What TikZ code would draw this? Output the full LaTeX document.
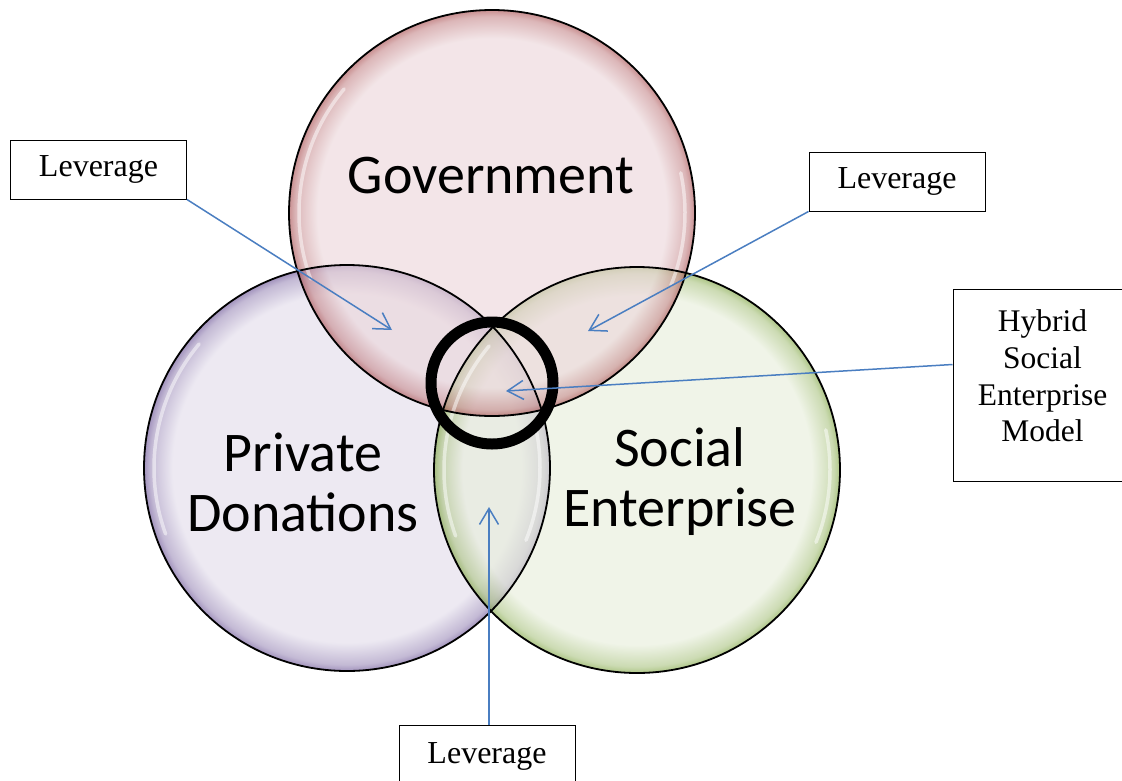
\documentclass[tikz,border=0pt]{standalone}
\usepackage{fontspec}
\setmainfont{Liberation Serif}
\newfontfamily\calib{Carlito}
\usetikzlibrary{arrows.meta,calc}

\definecolor{govL}{RGB}{235,213,217}
\definecolor{govD}{RGB}{165,70,72}
\colorlet{govM}{govD!55!govL}
\definecolor{priL}{RGB}{225,219,234}
\definecolor{priD}{RGB}{100,75,145}
\colorlet{priM}{priD!55!priL}
\definecolor{socL}{RGB}{231,238,218}
\definecolor{socD}{RGB}{120,160,55}
\colorlet{socM}{socD!55!socL}
\definecolor{arrowblue}{RGB}{74,126,193}

\pgfdeclareradialshading{govsh}{\pgfpoint{0bp}{0bp}}{color(0bp)=(govL); color(21.5bp)=(govL); color(24.2bp)=(govM); color(25bp)=(govD); color(50bp)=(govD)}
\pgfdeclareradialshading{prish}{\pgfpoint{0bp}{0bp}}{color(0bp)=(priL); color(21.5bp)=(priL); color(24.2bp)=(priM); color(25bp)=(priD); color(50bp)=(priD)}
\pgfdeclareradialshading{socsh}{\pgfpoint{0bp}{0bp}}{color(0bp)=(socL); color(21.5bp)=(socL); color(24.2bp)=(socM); color(25bp)=(socD); color(50bp)=(socD)}

\tikzset{
  setcircle/.style={circle, minimum size=406pt, inner sep=0pt, outer sep=0pt},
  outline/.style={draw=black, line width=1.8pt},
  highlight/.style={draw=white, line width=3.5pt, opacity=0.5, line cap=round},
  bigtext/.style={font=\calib\fontsize{56}{60}\selectfont, align=center, inner sep=0pt},
  levbox/.style={draw=black, line width=1pt, fill=white, minimum width=176pt, minimum height=59pt, inner sep=0pt, font=\fontsize{32}{36}\selectfont},
  arr/.style={draw=arrowblue, line width=1.5pt, -{Straight Barb[length=16pt,width=19pt]}}
}

\begin{document}
\begin{tikzpicture}[x=1pt,y=-1pt]
\useasboundingbox (0,0) rectangle (1122,780);
\fill[white] (0,0) rectangle (1122,780);

% circles (semi-transparent, shaded rim)
\node[setcircle, shade, shading=prish, fill opacity=0.6] (pri) at (347,468) {};
\node[setcircle, shade, shading=socsh, fill opacity=0.6] (soc) at (637,470) {};
\node[setcircle, shade, shading=govsh, fill opacity=0.6] (gov) at (492,213) {};

% highlights
\foreach \c in {gov,pri,soc}{
  \draw[highlight] ([shift={(140:193pt)}]\c.center) arc[start angle=140, end angle=200, radius=193pt];
  \draw[highlight] ([shift={(-22:193pt)}]\c.center) arc[start angle=-22, end angle=12, radius=193pt];
}

% outlines
\draw[outline] (pri.center) circle[radius=203pt];
\draw[outline] (soc.center) circle[radius=203pt];
\draw[outline] (gov.center) circle[radius=203pt];

% circle texts
\node[bigtext] (govtxt) at (491,176) {Government};
\node[bigtext] (pritxt) at (303,482) {Private\\Donations};
\node[bigtext] (soctxt) at (680,482) {Social\\Enterprise};

% black ring
\node[circle, draw=black, line width=11pt, minimum size=122pt, inner sep=0pt] (ring) at (492,383) {};

% boxes
\node[levbox] (lev1) at (98.5,169.5) {Leverage};
\node[levbox] (lev2) at (897,181.5) {Leverage};
\node[levbox, minimum height=62pt] (lev4) at (487,756) {Leverage};
\node[draw=black, line width=1pt, fill=white, minimum width=180pt, minimum height=192pt, inner sep=0pt] (hyb) at (1043,385.5) {};
\node[font=\fontsize{31.5}{36.7}\selectfont, align=center, inner sep=0pt] (hybtxt) at (1042.5,376) {Hybrid\\Social\\Enterprise\\Model};

% arrow tips
\coordinate (t1) at (392,330);
\coordinate (t2) at (588,331);
\coordinate (t3) at (506,391);
\coordinate (t4) at (489,507);

% arrows
\draw[arr] (lev1.south east) -- (t1);
\draw[arr] (lev2.south west) -- (t2);
\draw[arr] ([yshift=21pt]hyb.west) -- (t3);
\draw[arr] ([xshift=2pt]lev4.north) -- (t4);
\end{tikzpicture}
\end{document}
